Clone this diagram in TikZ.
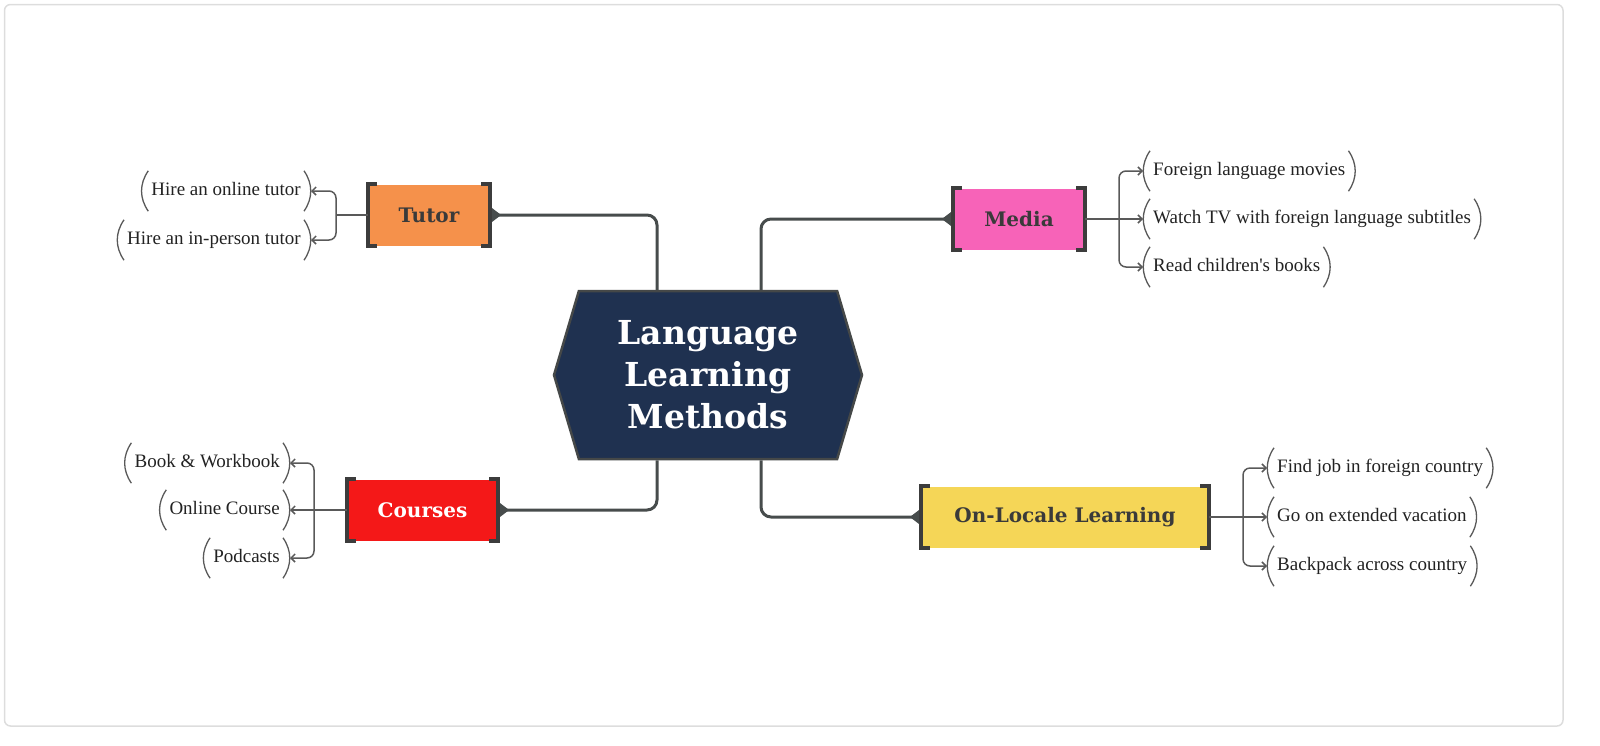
\documentclass[tikz,border=0pt]{standalone}
\usepackage{fontspec}
\setmainfont{Liberation Serif}
\newfontfamily\slabfont{DejaVu Serif}
\usetikzlibrary{arrows.meta,shapes.symbols}
\definecolor{framec}{HTML}{DDDDDD}
\definecolor{navy}{HTML}{1F3150}
\definecolor{hexborder}{HTML}{454848}
\definecolor{linec}{HTML}{474C4C}
\definecolor{bracketc}{HTML}{3C3C3C}
\definecolor{tutorc}{HTML}{F5914B}
\definecolor{mediac}{HTML}{F763B8}
\definecolor{coursec}{HTML}{F41818}
\definecolor{localec}{HTML}{F5D657}
\definecolor{labelc}{HTML}{3A3A3A}
\definecolor{leafc}{HTML}{222222}
\definecolor{branchc}{HTML}{595959}
\newcommand\bracketbox[1]{%
  \draw[bracketline] ([xshift=9pt]#1.north west) -- (#1.north west) -- (#1.south west) -- ([xshift=9pt]#1.south west);
  \draw[bracketline] ([xshift=-9pt]#1.north east) -- (#1.north east) -- (#1.south east) -- ([xshift=-9pt]#1.south east);}
\begin{document}
\begin{tikzpicture}[x=1pt,y=-1pt,
  hub/.style={signal, signal to=west and east, signal pointer angle=147, fill=navy, draw=hexborder, line width=2.5pt, minimum width=308pt, minimum height=168pt, inner sep=0pt, text=white, align=center, font=\slabfont\bfseries\fontsize{33}{42}\selectfont},
  topic/.style={fill=#1, minimum height=61pt, inner sep=0pt, font=\slabfont\bfseries\fontsize{20}{24}\selectfont, text=labelc},
  parenline/.style={draw=branchc, line width=1.3pt, to path={.. controls +(-9pt,-13pt) and +(-9pt,13pt) .. (\tikztotarget)}},
  parenliner/.style={draw=branchc, line width=1.3pt, to path={.. controls +(9pt,-13pt) and +(9pt,13pt) .. (\tikztotarget)}},
  leaf/.style={font=\fontsize{19}{22}\selectfont, text=leafc, inner xsep=10pt, inner ysep=0pt, minimum height=40pt, text height=13pt, text depth=4pt,
    append after command={\pgfextra{\let\lfnode\tikzlastnode}
      ([xshift=7pt]\lfnode.north west) edge[parenline] ([xshift=7pt]\lfnode.south west)
      ([xshift=-7pt]\lfnode.north east) edge[parenliner] ([xshift=-7pt]\lfnode.south east)}},
  mainline/.style={draw=linec, line width=3pt, rounded corners=10pt, shorten >=2pt, -{Triangle[reversed,length=9pt,width=13pt]}},
  branch/.style={draw=branchc, line width=1.5pt, rounded corners=7pt},
  leafarrow/.style={branch, -{Straight Barb[length=4pt,width=8pt]}},
  bracketline/.style={draw=bracketc, line width=4pt, line join=miter}
]
\useasboundingbox (0,0) rectangle (1600,745);
\draw[draw=framec, line width=1.5pt, rounded corners=6pt] (4.5,4.5) rectangle (1563,726);

% central topic
\node[hub] (hub) at (708,375) {Language\\Learning\\Methods};

% main topics
\node[topic=tutorc, minimum width=122pt] (tutor) at (429,215) {Tutor};
\node[topic=mediac, minimum width=132pt] (media) at (1019,219) {Media};
\node[topic=coursec, minimum width=151pt, text=white] (courses) at (422.5,510) {Courses};
\node[topic=localec, minimum width=288pt] (locale) at (1065,517) {On-Locale Learning};

% main connectors
\draw[mainline] ([xshift=-51pt]hub.north) |- (tutor.east);
\draw[mainline] ([xshift=53pt]hub.north) |- (media.west);
\draw[mainline] ([xshift=-51pt]hub.south) |- (courses.east);
\draw[mainline] ([xshift=53pt]hub.south) |- (locale.west);

\bracketbox{tutor}
\bracketbox{media}
\bracketbox{courses}
\bracketbox{locale}

% leaves
\node[leaf, anchor=east] (t1) at (311,191) {Hire an online tutor};
\node[leaf, anchor=east] (t2) at (311,240) {Hire an in-person tutor};
\node[leaf, anchor=west] (m1) at (1143,171) {Foreign language movies};
\node[leaf, anchor=west] (m2) at (1143,219) {Watch TV with foreign language subtitles};
\node[leaf, anchor=west] (m3) at (1143,267) {Read children\textquotesingle s books};
\node[leaf, anchor=east] (c1) at (290,463) {Book \& Workbook};
\node[leaf, anchor=east] (c2) at (290,510) {Online Course};
\node[leaf, anchor=east] (c3) at (290,558) {Podcasts};
\node[leaf, anchor=west] (l1) at (1267,468) {Find job in foreign country};
\node[leaf, anchor=west] (l2) at (1267,517) {Go on extended vacation};
\node[leaf, anchor=west] (l3) at (1267,566) {Backpack across country};

% branch forks
\coordinate (tf) at (336,215);
\coordinate (mf) at (1119,219);
\coordinate (cf) at (314,510);
\coordinate (lf) at (1243,517);
\draw[branch] (tutor.west) -- (tf);
\draw[leafarrow] (tf) |- (t1.east);
\draw[leafarrow] (tf) |- (t2.east);
\draw[branch] (media.east) -- (mf);
\draw[leafarrow] (mf) |- (m1.west);
\draw[leafarrow] (mf) -- (m2.west);
\draw[leafarrow] (mf) |- (m3.west);
\draw[branch] (courses.west) -- (cf);
\draw[leafarrow] (cf) |- (c1.east);
\draw[leafarrow] (cf) -- (c2.east);
\draw[leafarrow] (cf) |- (c3.east);
\draw[branch] (locale.east) -- (lf);
\draw[leafarrow] (lf) |- (l1.west);
\draw[leafarrow] (lf) -- (l2.west);
\draw[leafarrow] (lf) |- (l3.west);
\end{tikzpicture}
\end{document}
